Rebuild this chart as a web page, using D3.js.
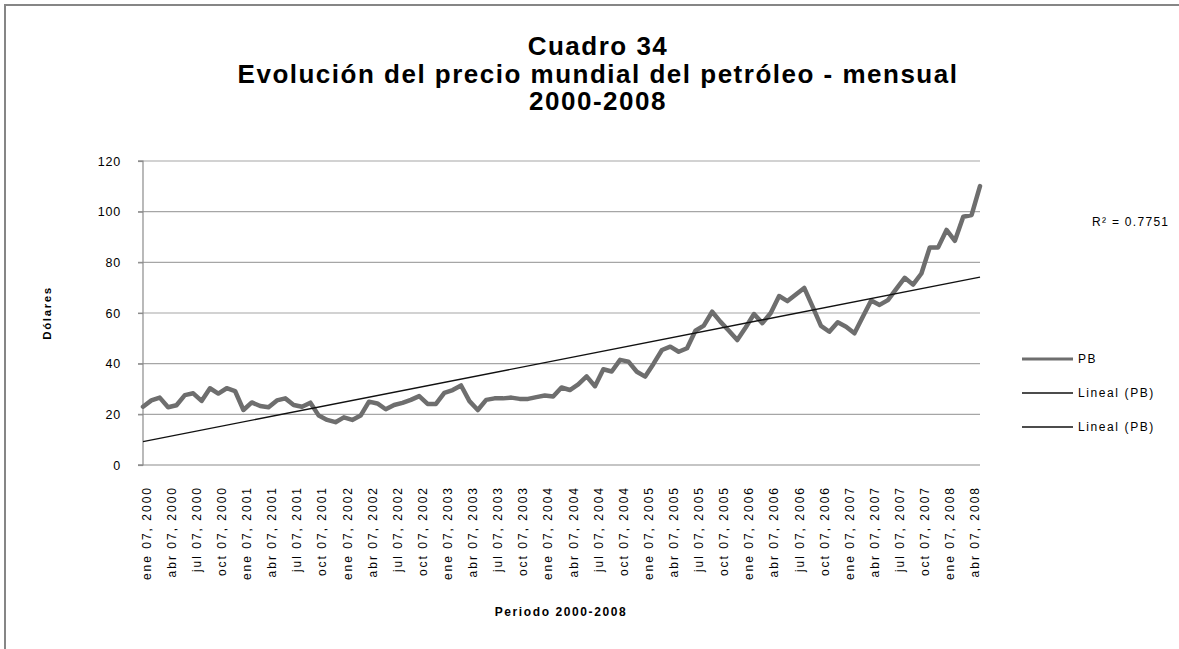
<!DOCTYPE html>
<html>
<head>
<meta charset="utf-8">
<script src="https://cdn.jsdelivr.net/npm/d3@7/dist/d3.min.js"></script>
<style>
  body { margin: 0; background: #fff; }
  svg { display: block; }
  text { font-family: "Liberation Sans", Arial, sans-serif; fill: #000; }
</style>
</head>
<body>
<svg id="chart" width="1179" height="649"></svg>
<script>
// ---------- data ----------
const titleLines = ["Cuadro 34", "Evolución del precio mundial del petróleo - mensual", "2000-2008"];
const monthNames = ["ene", "feb", "mar", "abr", "may", "jun", "jul", "ago", "sep", "oct", "nov", "dic"];
const years = [2000, 2001, 2002, 2003, 2004, 2005, 2006, 2007, 2008];
// monthly price (PB), ene 2000 .. may 2008
const prices = [
  23.0, 25.5, 26.6, 22.8, 23.6, 27.6, 28.3, 25.3, 30.3, 28.2, 30.3, 29.2,   // 2000
  21.7, 24.7, 23.3, 22.8, 25.5, 26.3, 23.7, 23.0, 24.6, 19.5, 17.8, 16.9,   // 2001
  18.8, 17.8, 19.5, 25.0, 24.3, 22.0, 23.7, 24.5, 25.7, 27.2, 24.1, 24.1,   // 2002
  28.5, 29.6, 31.4, 25.2, 21.7, 25.7, 26.3, 26.3, 26.6, 26.1, 26.1, 26.8,   // 2003
  27.4, 27.0, 30.6, 29.6, 31.8, 35.0, 31.1, 37.8, 36.9, 41.5, 40.8, 36.8,   // 2004
  34.9, 40.0, 45.4, 46.7, 44.7, 46.1, 53.0, 55.0, 60.5, 56.5, 53.0, 49.3,   // 2005
  54.3, 59.6, 56.0, 60.0, 66.7, 64.7, 67.3, 69.9, 62.5, 54.9, 52.6, 56.3,   // 2006
  54.6, 52.0, 58.5, 64.9, 63.2, 65.1, 69.5, 73.9, 71.2, 75.6, 85.9, 85.9,   // 2007
  92.8, 88.5, 98.0, 98.7, 110.1                                             // 2008
];
const yTicks = [0, 20, 40, 60, 80, 100, 120];
const legendLabels = ["PB", "Lineal (PB)", "Lineal (PB)"];
const r2Label = "R² = 0.7751";
const yTitle = "Dólares";
const xTitle = "Periodo 2000-2008";

// categories built from months/years
const categories = [];
years.forEach(y => monthNames.forEach(m => categories.push(m + " 07, " + y)));
categories.length = prices.length;
const data = categories.map((c, i) => ({ c, i, v: prices[i] }));

// ---------- layout ----------
const svg = d3.select("#chart");
const W = 1179, H = 649;
const plot = { left: 143, right: 980, top: 161, bottom: 465 };

// outer frame
svg.append("rect").attr("x", 5).attr("y", 5).attr("width", W + 10).attr("height", H + 10)
  .attr("fill", "#fff").attr("stroke", "#868686").attr("stroke-width", 2);

// title
svg.append("g").selectAll("text").data(titleLines).join("text")
  .attr("x", 598).attr("y", (d, i) => 55 + i * 27.5)
  .attr("text-anchor", "middle")
  .attr("font-size", 26).attr("font-weight", "bold").attr("letter-spacing", 1.5)
  .text(d => d);

const x = d3.scalePoint().domain(categories).range([plot.left, plot.right]);
const y = d3.scaleLinear().domain([0, 120]).range([plot.bottom, plot.top]);

// gridlines
svg.append("g").selectAll("line").data(yTicks.filter(t => t > 0)).join("line")
  .attr("x1", plot.left - 5).attr("x2", plot.right)
  .attr("y1", d => y(d)).attr("y2", d => y(d))
  .attr("stroke", "#a6a6a6").attr("stroke-width", 1.2);

// y axis
const yAxis = d3.axisLeft(y).tickValues(yTicks).tickSize(5).tickPadding(17);
const gy = svg.append("g").attr("transform", `translate(${plot.left},0)`).call(yAxis);
gy.select(".domain").attr("stroke", "#8c8c8c").attr("stroke-width", 1.2).attr("d", `M-5,${plot.top}H0V${plot.bottom}H-5`);
gy.selectAll(".tick line").attr("stroke", "#8c8c8c").attr("stroke-width", 1.2);
gy.selectAll(".tick text").attr("font-size", 12.5).attr("letter-spacing", 0.8)
  .attr("font-family", "'Liberation Sans', Arial, sans-serif").attr("fill", "#000");

// x axis
const labelCats = categories.filter((c, i) => i % 3 === 0);
const xAxis = d3.axisBottom(x).tickValues(labelCats).tickSize(0).tickPadding(0);
const gx = svg.append("g").attr("transform", `translate(0,${plot.bottom})`).call(xAxis);
gx.select(".domain").attr("stroke", "#8c8c8c").attr("stroke-width", 1.2).attr("d", `M${plot.left - 5},0H${plot.right}`);
gx.selectAll(".tick text")
  .attr("font-size", 12).attr("letter-spacing", 2)
  .attr("font-family", "'Liberation Sans', Arial, sans-serif").attr("fill", "#000")
  .attr("text-anchor", "end")
  .attr("transform", "translate(3,21) rotate(-90)")
  .attr("x", 0).attr("y", 0).attr("dy", "0.35em");

// data line
const line = d3.line().x(d => x(d.c)).y(d => y(d.v));
svg.append("path").datum(data).attr("d", line)
  .attr("fill", "none").attr("stroke", "#6e6e6e").attr("stroke-width", 4.5)
  .attr("stroke-linejoin", "round").attr("stroke-linecap", "round");

// linear trend (least squares on index)
const n = data.length;
const mx = d3.mean(data, d => d.i), my = d3.mean(data, d => d.v);
const slope = d3.sum(data, d => (d.i - mx) * (d.v - my)) / d3.sum(data, d => (d.i - mx) ** 2);
const icpt = my - slope * mx;
const trend = [data[0], data[n - 1]].map(d => ({ c: d.c, v: icpt + slope * d.i }));
svg.append("path").datum(trend).attr("d", line)
  .attr("fill", "none").attr("stroke", "#111").attr("stroke-width", 1.4);

// R² label
svg.append("text").attr("x", 1092).attr("y", 226)
  .attr("font-size", 12).attr("letter-spacing", 1.3).text(r2Label);

// legend
const lg = svg.append("g").selectAll("g").data(legendLabels).join("g")
  .attr("transform", (d, i) => `translate(1022,${359 + i * 34})`);
lg.append("line").attr("x1", 0).attr("x2", 51).attr("y1", 0).attr("y2", 0)
  .attr("stroke", (d, i) => i === 0 ? "#6e6e6e" : "#111")
  .attr("stroke-width", (d, i) => i === 0 ? 3 : 1.3);
lg.append("text").attr("x", 56).attr("dy", "0.35em")
  .attr("font-size", 12).attr("letter-spacing", 1.6).text(d => d);

// axis titles
svg.append("text").attr("transform", "translate(51,313) rotate(-90)")
  .attr("text-anchor", "middle").attr("font-size", 11.5).attr("font-weight", "bold")
  .attr("letter-spacing", 1.6).text(yTitle);
svg.append("text").attr("x", 561).attr("y", 616)
  .attr("text-anchor", "middle").attr("font-size", 12).attr("font-weight", "bold")
  .attr("letter-spacing", 1.6).text(xTitle);
</script>
</body>
</html>
